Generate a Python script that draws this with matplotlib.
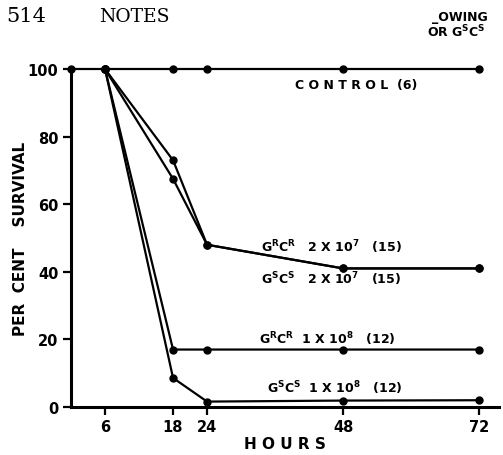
import matplotlib
matplotlib.use("Agg")
import matplotlib.pyplot as plt

hours_control = [0, 6, 18, 24, 48, 72]
control = [100, 100, 100, 100, 100, 100]

hours_treat = [6, 18, 24, 48, 72]
grcr_2e7 = [100, 73, 48, 41, 41]
gscs_2e7 = [100, 67.5, 48, 41, 41]
grcr_1e8 = [100, 17, 17, 17, 17]
gscs_1e8 = [100, 8.6, 1.6, 1.9, 2]

x_ticks = [6, 18, 24, 48, 72]
y_ticks = [0, 20, 40, 60, 80, 100]
y_ticklabels = ["0", "20", "40", "60", "80", "100"]

W, H = 503, 456
fig = plt.figure(figsize=(W / 100, H / 100), dpi=100)
ax = fig.add_axes([71 / W, 1 - 408 / H, 428 / W, 338 / H])

line_kw = dict(color="black", lw=1.6, marker="o", ms=5, clip_on=False, zorder=3)
ax.plot(hours_control, control, **line_kw)
ax.plot(hours_treat, grcr_2e7, **line_kw)
ax.plot(hours_treat, gscs_2e7, **line_kw)
ax.plot(hours_treat, grcr_1e8, **line_kw)
ax.plot(hours_treat, gscs_1e8, **line_kw)

ax.set_xlim(0, 75.5)
ax.set_ylim(0, 100)
ax.set_xticks(x_ticks)
ax.set_yticks(y_ticks)
ax.set_yticklabels(y_ticklabels)
for s in ["top", "right"]:
    ax.spines[s].set_visible(False)
for s in ["left", "bottom"]:
    ax.spines[s].set_linewidth(2.2)
ax.tick_params(axis="both", direction="out", length=6, width=1.6,
               labelsize=10.5, pad=3)
for lab in ax.get_xticklabels() + ax.get_yticklabels():
    lab.set_fontweight("bold")
    lab.set_family("DejaVu Sans")

ax.set_xlabel("H O U R S", fontsize=11, fontweight="bold", labelpad=1)
ax.set_ylabel("PER  CENT    SURVIVAL", fontsize=11, fontweight="bold")
ax.yaxis.set_label_coords(-0.119, 0.5)
ax.yaxis.label.set_va("center")

lab_kw = dict(fontsize=9, fontweight="bold", ha="left", va="center")
ax.text(39.5, 95.3, "C O N T R O L  (6)", **lab_kw)
ax.text(33.5, 47.5, r"G$^{\mathbf{R}}$C$^{\mathbf{R}}$   2 X 10$^{\mathbf{7}}$   (15)", **lab_kw)
ax.text(33.5, 38.2, r"G$^{\mathbf{S}}$C$^{\mathbf{S}}$   2 X 10$^{\mathbf{7}}$   (15)", **lab_kw)
ax.text(33.2, 20.5, r"G$^{\mathbf{R}}$C$^{\mathbf{R}}$  1 X 10$^{\mathbf{8}}$   (12)", **lab_kw)
ax.text(34.5, 5.8, r"G$^{\mathbf{S}}$C$^{\mathbf{S}}$  1 X 10$^{\mathbf{8}}$   (12)", **lab_kw)

fig.text(6 / W, 1 - 16 / H, "514", family="DejaVu Serif", fontsize=15,
         ha="left", va="center")
fig.text(99 / W, 1 - 17 / H, "NOTES", family="DejaVu Serif", fontsize=13.5,
         ha="left", va="center")
fig.text(432 / W, 1 - 18 / H, "_OWING", fontsize=9, fontweight="bold",
         ha="left", va="center")
fig.text(427 / W, 1 - 32 / H, r"OR G$^{\mathbf{S}}$C$^{\mathbf{S}}$", fontsize=9,
         fontweight="bold", ha="left", va="center")

fig.savefig("out.png", dpi=100)
